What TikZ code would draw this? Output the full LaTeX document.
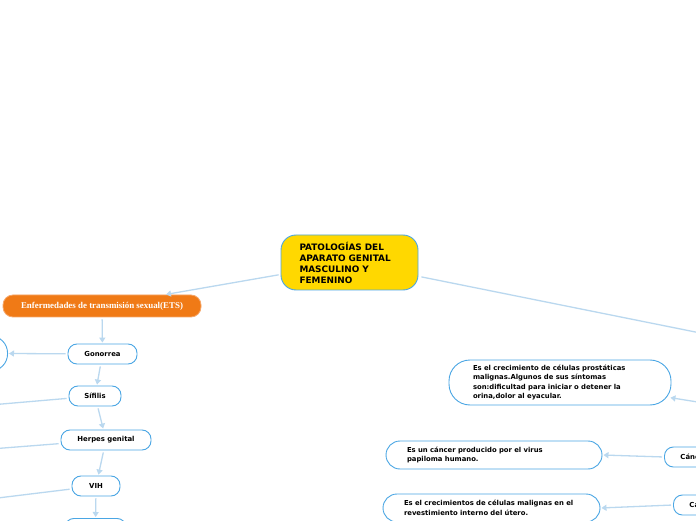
\documentclass[tikz,border=0pt]{standalone}
\usepackage{fontspec}
\setmainfont{DejaVu Sans}
\newfontfamily\tnr{Liberation Serif}
\usetikzlibrary{arrows.meta}
\definecolor{bordblue}{HTML}{4AA6E4}
\definecolor{connblue}{HTML}{BAD8EF}
\definecolor{gold}{HTML}{FFD800}
\definecolor{etsorange}{HTML}{F07A16}
\definecolor{etsborder}{HTML}{F6A668}
\tikzset{
  box/.style={draw=bordblue, line width=0.9pt, fill=white, rounded corners=9pt,
    minimum height=20pt, inner sep=0pt, font=\bfseries\fontsize{6.9}{8}\selectfont},
  txtbox/.style={draw=bordblue, line width=0.9pt, fill=white, rounded corners=14pt,
    align=left, inner ysep=0pt, font=\bfseries\fontsize{6.85}{9.5}\selectfont},
  conn/.style={draw=connblue, line width=1.3pt},
  arr/.style={conn, -{Triangle[length=5pt,width=6pt,fill=connblue]}, shorten >=1pt, shorten <=2pt},
}
\begin{document}
\begin{tikzpicture}[x=1pt,y=1pt]
\useasboundingbox (0,0) rectangle (696,520);
\clip (0,0) rectangle (696,520);
\fill[white] (0,0) rectangle (696,520);

% coordinates for off-picture ends
\coordinate (offR) at (760,175);
\coordinate (offL1) at (-40,112.4);
\coordinate (offL2) at (-40,68.6);
\coordinate (offL3) at (-40,17.4);
\coordinate (offP) at (760,108);

% central
\node[draw=bordblue, line width=0.9pt, fill=gold, rounded corners=15pt,
  minimum height=55pt, text width=100pt, inner xsep=18.5pt, align=left,
  font=\bfseries\fontsize{8.9}{11}\selectfont] (central) at (349.5,257.5)
  {PATOLOGÍAS DEL\\APARATO GENITAL\\MASCULINO Y\\FEMENINO};

% ETS
\node[draw=etsborder, line width=0.8pt, fill=etsorange, rounded corners=10pt,
  minimum width=198pt, minimum height=22pt, inner sep=0pt, text=white,
  font=\tnr\bfseries\fontsize{8.9}{10}\selectfont] (ets) at (102,214)
  {Enfermedades de transmisión sexual(ETS)};

% left column
\node[box, minimum width=69pt] (gon) at (102.5,166) {Gonorrea};
\node[box, minimum width=52pt] (sif) at (95,124) {Sífilis};
\node[box, minimum width=90pt] (herp) at (106,80) {Herpes genital};
\node[box, minimum width=48pt] (vih) at (96,34) {VIH};
\node[box, minimum width=61pt, anchor=north] (bot) at (95.5,2) {};
\node[draw=bordblue, line width=0.9pt, fill=white, rounded corners=17pt,
  minimum width=80pt, minimum height=35pt, anchor=east] (leftn) at (8,166.5) {};

% right side
\node[txtbox, rounded corners=21pt, text width=174pt, inner xsep=24pt, minimum height=45pt] (pros) at (560,137.5)
  {Es el crecimiento de células prostáticas\\malignas.Algunos de sus síntomas\\son:dificultad para iniciar o detener la\\orina,dolor al eyacular.};
\node[txtbox, text width=174pt, inner xsep=21pt, minimum height=28pt] (cerv) at (494,65)
  {Es un cáncer producido por el virus\\papiloma humano.};
\node[txtbox, text width=175pt, inner xsep=21pt, minimum height=28pt] (endo) at (491.5,12)
  {Es el crecimientos de células malignas en el\\revestimiento interno del útero.};
\node[box, anchor=west, text width=60pt, inner xsep=16pt, align=left] (canc) at (664,63) {Cáncer};
\node[box, anchor=west, text width=60pt, inner xsep=16pt, align=left] (ca) at (673,15) {Cancer};

% connectors
\draw[arr] (central) -- ([xshift=63pt]ets.north);
\draw[conn, shorten <=3pt] (central) -- (offR);
\draw[arr] (ets) -- (gon);
\draw[arr] (gon) -- (leftn.east);
\draw[arr] (gon) -- (sif);
\draw[conn, shorten <=2pt] (sif) -- (offL1);
\draw[arr] (sif) -- (herp);
\draw[conn, shorten <=2pt] (herp) -- (offL2);
\draw[arr] (herp) -- (vih);
\draw[conn, shorten <=2pt] (vih) -- (offL3);
\draw[arr] (vih) -- (bot);
\draw[arr] (offP) -- ([xshift=-2pt,yshift=-15pt]pros.east);
\draw[arr] (canc.west) -- (cerv.east);
\draw[arr] (ca.west) -- (endo.east);
\end{tikzpicture}
\end{document}
